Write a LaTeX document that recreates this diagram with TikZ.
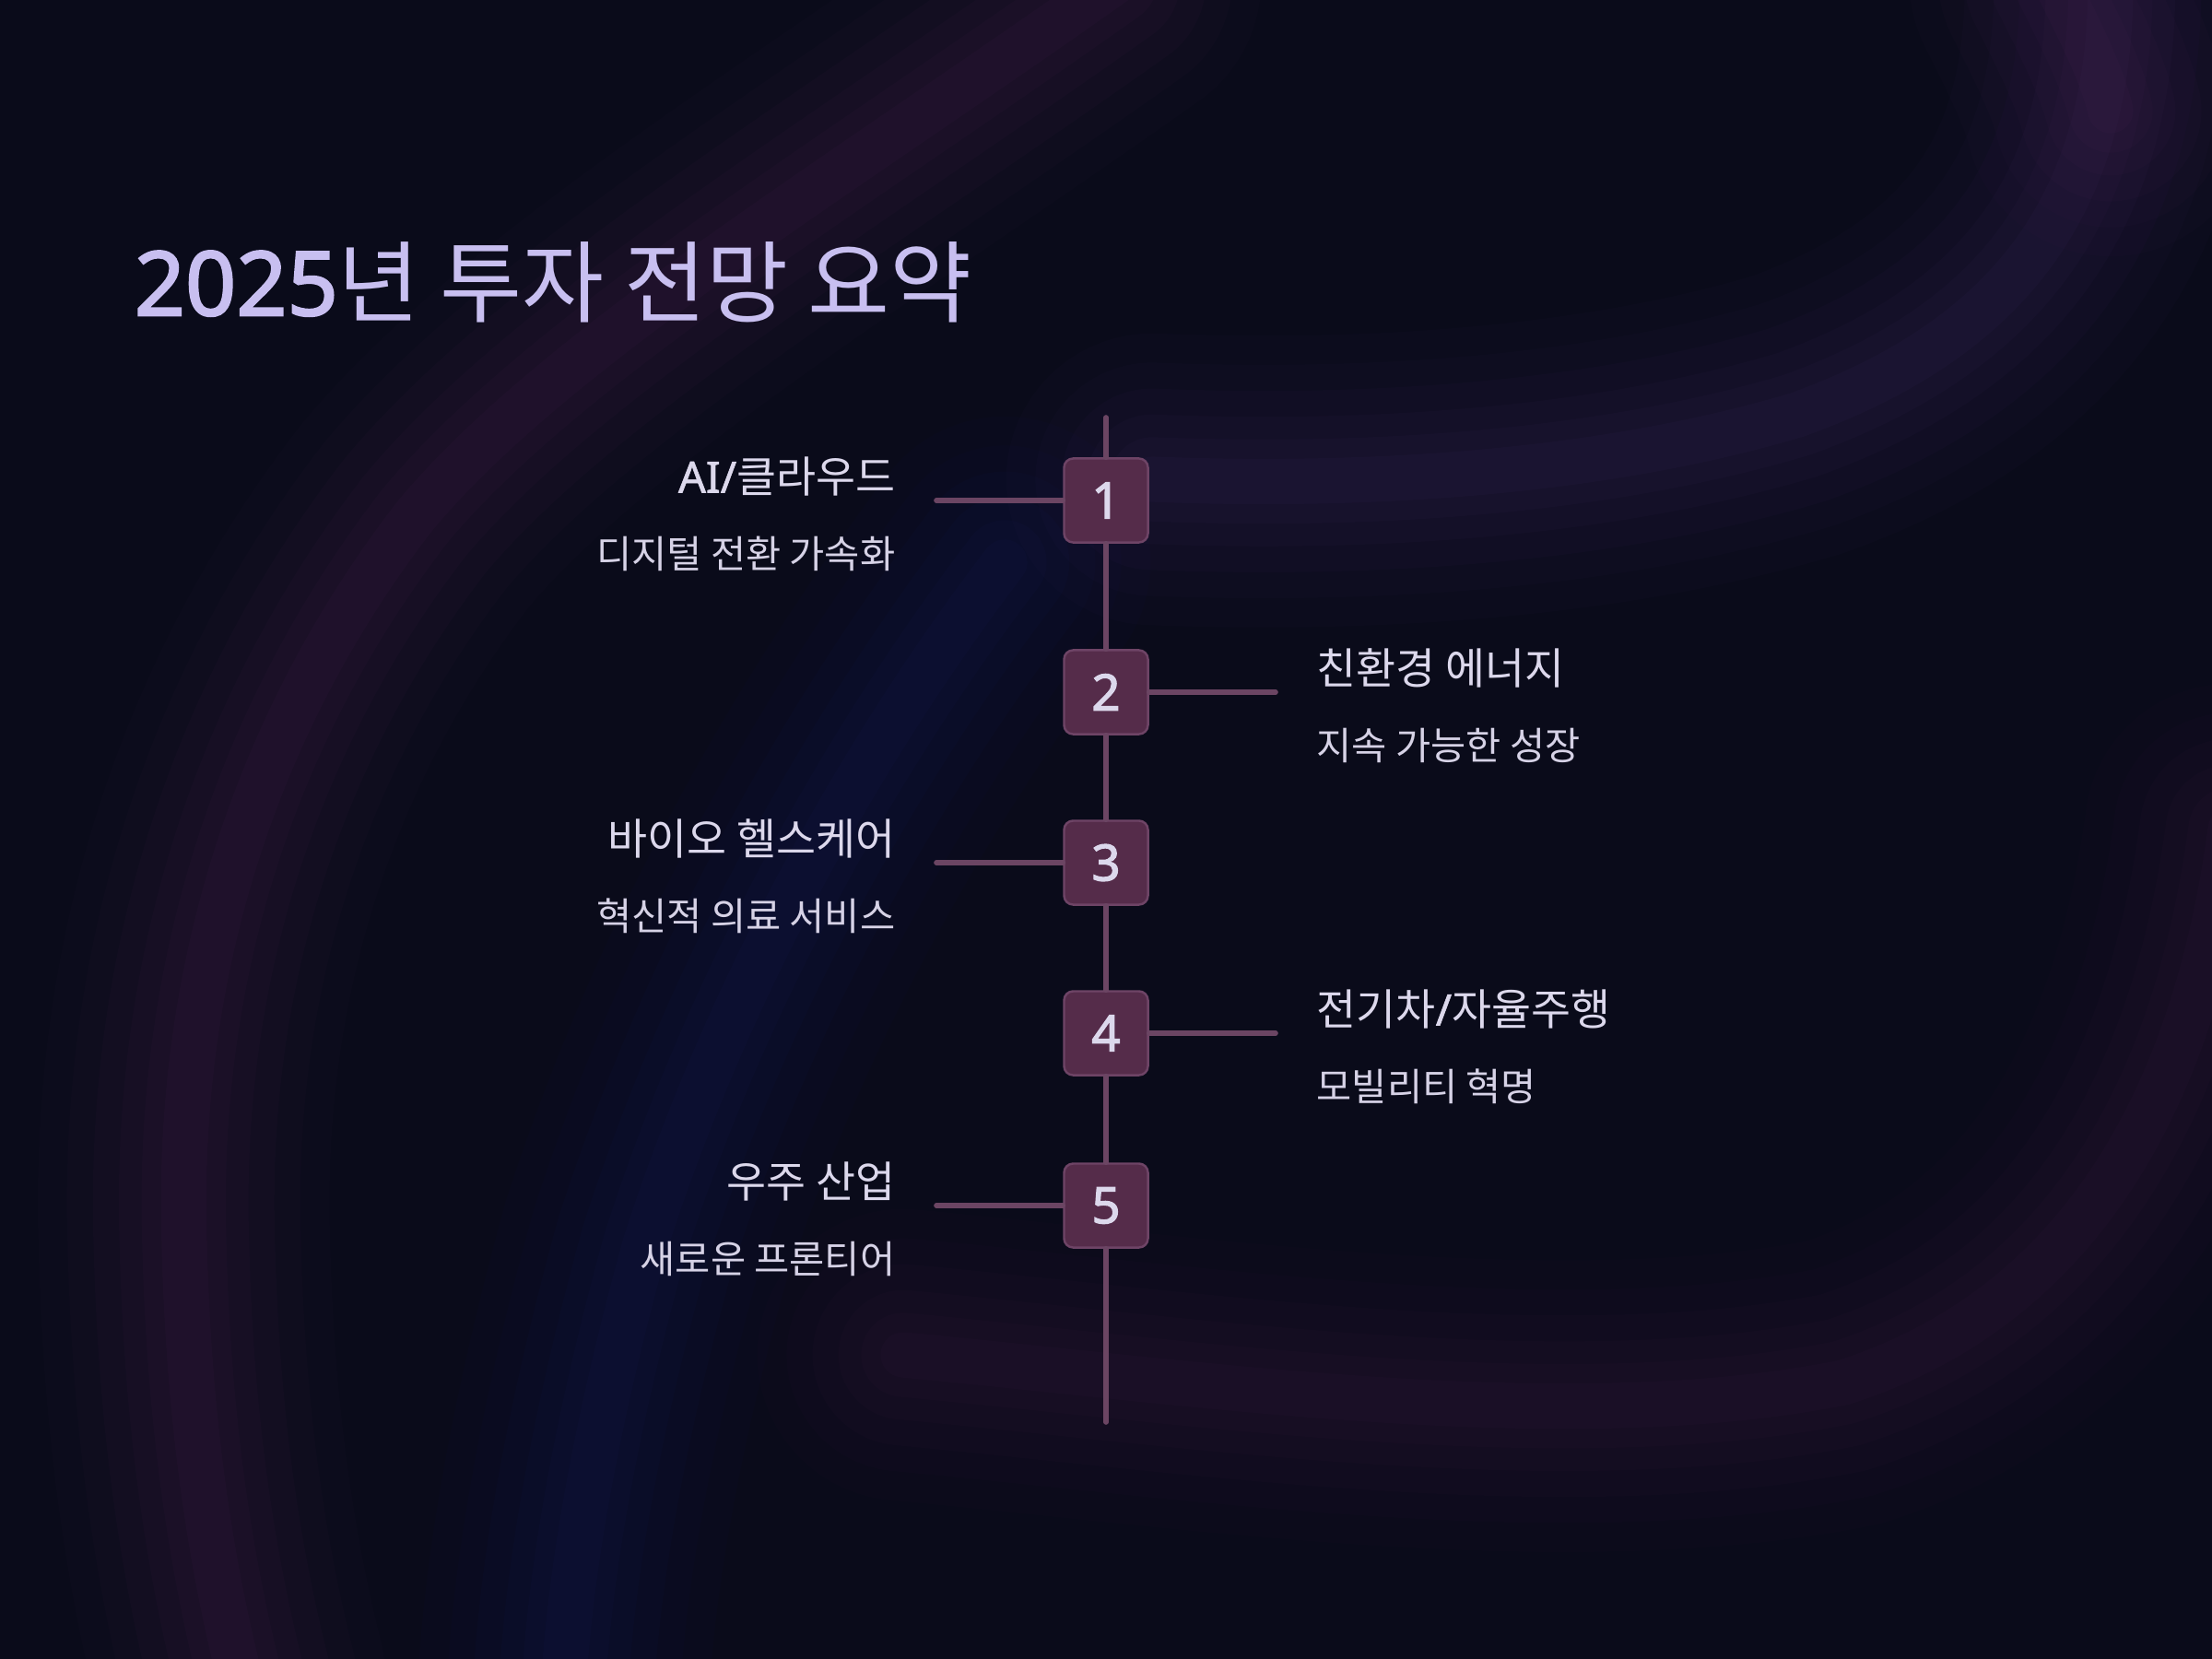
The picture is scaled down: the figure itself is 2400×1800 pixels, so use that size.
\documentclass[tikz,border=0pt]{standalone}
\usepackage{fontspec}
\setmainfont{Noto Sans CJK KR}
\newfontfamily\latin{Noto Sans}[FakeBold=2.2]
\newfontfamily\latinm{Noto Sans}[FakeBold=1.3]
\definecolor{bg}{HTML}{0A0B1A}
\definecolor{boxfill}{HTML}{552C4A}
\definecolor{boxline}{HTML}{6E4466}
\definecolor{conn}{HTML}{6B4563}
\definecolor{titlecol}{HTML}{C8BFF0}
\definecolor{itemcol}{HTML}{DCD8EC}
\definecolor{subcol}{HTML}{D6D2E6}
\definecolor{glowpink}{HTML}{5E2A62}
\definecolor{glowblue}{HTML}{1C2470}
\definecolor{glowviolet}{HTML}{4A3478}
\definecolor{glowmag}{HTML}{4A2050}
\newcommand\myglow[2]{%
  \foreach \w/\o in {90pt/0.035,72pt/0.04,56pt/0.05,40pt/0.055,26pt/0.06,14pt/0.07}{%
    \draw[#1, line width=\w, opacity=\o, line cap=round] #2;}}
\newcommand\lat[1]{{\latin #1}}
\newcommand\latm[1]{{\latinm #1}}
\tikzset{
  numbox/.style={draw=boxline, fill=boxfill, line width=0.7pt, rounded corners=2.8pt,
    minimum width=0.91cm, minimum height=0.91cm, inner sep=0pt,
    text=itemcol, font=\fontsize{15.5}{16}\selectfont\latin},
  spine/.style={draw=conn, line width=1.6pt, line cap=round},
  itemtitle/.style={inner sep=0pt, text=itemcol, font=\fontsize{13.3}{14}\selectfont},
  itemsub/.style={inner sep=0pt, text=subcol, font=\fontsize{11.8}{13}\selectfont},
  maintitle/.style={inner sep=0pt, text=titlecol, font=\fontsize{27.5}{30}\selectfont}
}
\begin{document}
\begin{tikzpicture}[x=0.01cm,y=-0.01cm]
\fill[bg] (0,0) rectangle (2400,1800);
\useasboundingbox (0,0) rectangle (2400,1800);
% background glows
\begin{scope}
\clip (0,0) rectangle (2400,1800);
\myglow{glowpink}{(1210,-20) .. controls (900,200) and (600,380) .. (450,560) .. controls (280,780) and (190,1050) .. (200,1350) .. controls (205,1550) and (230,1700) .. (260,1820)}
\myglow{glowblue}{(1090,610) .. controls (960,780) and (800,1040) .. (700,1350) .. controls (645,1550) and (620,1700) .. (612,1820)}
\myglow{glowviolet}{(2290,-20) .. controls (2290,200) and (2200,360) .. (1950,450) .. controls (1750,510) and (1500,530) .. (1250,520)}
\myglow{glowpink}{(2230,-20) .. controls (2260,40) and (2280,80) .. (2290,120)}
\myglow{glowmag}{(2420,900) .. controls (2380,1200) and (2250,1420) .. (2000,1500) .. controls (1700,1560) and (1300,1500) .. (980,1470)}
\end{scope}
% title
\node[maintitle, anchor=west] (title) at (145,306) {\lat{2025}년 투자 전망 요약};
% spine endpoints
\coordinate (top) at (1200,453);
\coordinate (bot) at (1200,1543);
% boxes
\node[numbox] (b1) at (1200,543) {1};
\node[numbox] (b2) at (1200,751) {2};
\node[numbox] (b3) at (1200,936) {3};
\node[numbox] (b4) at (1200,1121) {4};
\node[numbox] (b5) at (1200,1308) {5};
% connector ends
\coordinate (l1) at (1016,543);
\coordinate (r2) at (1384,751);
\coordinate (l3) at (1016,936);
\coordinate (r4) at (1384,1121);
\coordinate (l5) at (1016,1308);
\draw[spine] (top) -- (b1.north);
\draw[spine] (b1.south) -- (b2.north);
\draw[spine] (b2.south) -- (b3.north);
\draw[spine] (b3.south) -- (b4.north);
\draw[spine] (b4.south) -- (b5.north);
\draw[spine] (b5.south) -- (bot);
\draw[spine] (l1) -- (b1.west);
\draw[spine] (b2.east) -- (r2);
\draw[spine] (l3) -- (b3.west);
\draw[spine] (b4.east) -- (r4);
\draw[spine] (l5) -- (b5.west);
% texts
\node[itemtitle, anchor=east] (t1) at (972,517) {\latm{AI/}클라우드};
\node[itemsub, anchor=east] (s1) at (972,601) {디지털 전환 가속화};
\node[itemtitle, anchor=west] (t2) at (1428,725) {친환경 에너지};
\node[itemsub, anchor=west] (s2) at (1428,809) {지속 가능한 성장};
\node[itemtitle, anchor=east] (t3) at (972,910) {바이오 헬스케어};
\node[itemsub, anchor=east] (s3) at (972,994) {혁신적 의료 서비스};
\node[itemtitle, anchor=west] (t4) at (1428,1095) {전기차\latm{/}자율주행};
\node[itemsub, anchor=west] (s4) at (1428,1179) {모빌리티 혁명};
\node[itemtitle, anchor=east] (t5) at (972,1282) {우주 산업};
\node[itemsub, anchor=east] (s5) at (972,1366) {새로운 프론티어};
\end{tikzpicture}
\end{document}
